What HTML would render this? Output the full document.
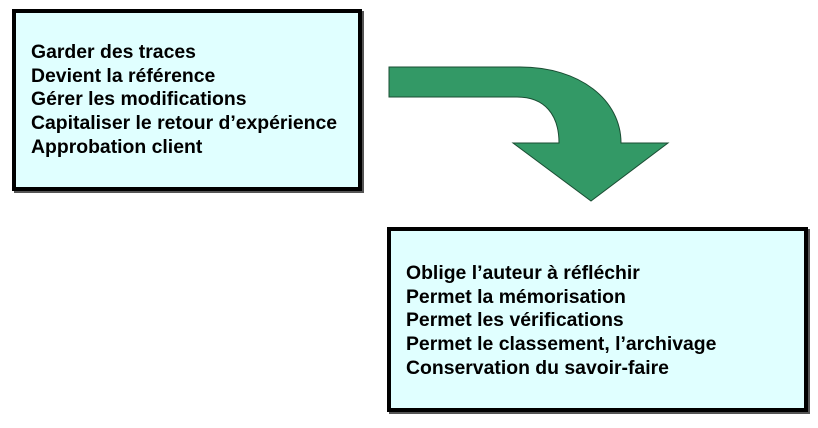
<!DOCTYPE html>
<html><head><style>
body{margin:0;width:818px;height:428px;background:#fff;position:relative;overflow:hidden;font-family:"Liberation Sans",Arial,sans-serif;}
.box{position:absolute;background:#e0ffff;border:4px solid #000;box-sizing:border-box;box-shadow:2px 2px 0 #555;}
.t{position:absolute;font-weight:bold;font-size:19.4px;line-height:23.7px;color:#000;white-space:nowrap;}
</style></head><body>
<div class="box" style="left:12px;top:9px;width:350px;height:182px;"></div>
<div class="t" style="left:31px;top:41px;">Garder des traces<br>Devient la référence<br>Gérer les modifications<br>Capitaliser le retour d’expérience<br>Approbation client</div>
<div class="box" style="left:387px;top:227px;width:421px;height:185px;"></div>
<div class="t" style="left:406px;top:262px;">Oblige l’auteur à réfléchir<br>Permet la mémorisation<br>Permet les vérifications<br>Permet le classement, l’archivage<br>Conservation du savoir-faire</div>
<svg style="position:absolute;left:0;top:0" width="818" height="428">
<path d="M389,67 L520,67 C580,67 621,100 621,143 L668,143 L591,201 L513,143 L559,143 C559,115 545,97 517,97 L389,97 Z" fill="#339966" stroke="#1a4d33" stroke-width="1"/>
</svg>
</body></html>
